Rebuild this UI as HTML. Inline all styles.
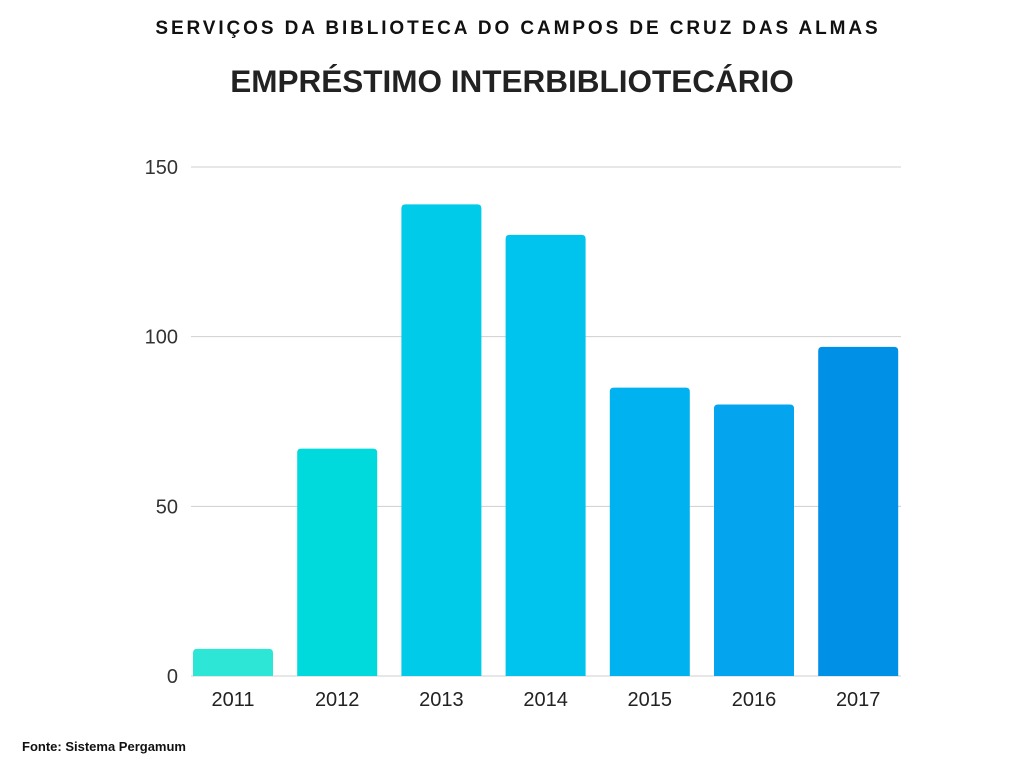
<!DOCTYPE html>
<html><head><meta charset="utf-8">
<style>
body{margin:0;width:1024px;height:768px;background:#fff;font-family:"Liberation Sans",sans-serif;overflow:hidden;position:relative}
#sub{position:absolute;top:18px;left:6px;width:1024px;text-align:center;font-weight:bold;font-size:19px;letter-spacing:2.9px;color:#111}
#title{position:absolute;top:63px;left:0;width:1024px;text-align:center;font-weight:bold;font-size:31.5px;color:#222}
#src{position:absolute;top:739px;left:22px;font-weight:bold;font-size:13px;color:#111}
svg{position:absolute;left:0;top:0}
</style></head><body>
<div id="sub">SERVIÇOS DA BIBLIOTECA DO CAMPOS DE CRUZ DAS ALMAS</div>
<div id="title">EMPRÉSTIMO INTERBIBLIOTECÁRIO</div>
<div id="src">Fonte: Sistema Pergamum</div>
<svg id="chart" width="1024" height="768"></svg>
<script>
const categories=["2011","2012","2013","2014","2015","2016","2017"];
const values=[8,67,139,130,85,80,97];
const yTicks=[0,50,100,150];
const colors=["#2ee6d6","#00dadd","#00cbe8","#00c3ee","#00b3f0","#04a5ee","#0090e6"];
const svg=document.getElementById('chart');
const NS="http://www.w3.org/2000/svg";
const x0=191,x1=901,yBase=676,yTop=167,yMax=150;
const y=v=>yBase-(v/yMax)*(yBase-yTop);
const step=104.2;
const bw=80;
const xc=i=>233+step*i;
function mk(t,a){const e=document.createElementNS(NS,t);for(const k in a)e.setAttribute(k,a[k]);svg.appendChild(e);return e;}
yTicks.forEach(t=>{
 const l=mk('line',{x1:x0,x2:x1,y1:y(t),y2:y(t),stroke:'#cfcfcf','stroke-width':1});
 
 
 const tx=mk('text',{x:178,y:y(t)+7,'text-anchor':'end','font-size':20,fill:'#333','font-family':'Liberation Sans, sans-serif'});
 tx.textContent=t;
 
 
});
categories.forEach((c,i)=>{
 const top=y(values[i]),r=4,L=xc(i)-bw/2;
 const p=mk('path',{d:`M${L},${yBase}V${top+r}Q${L},${top} ${L+r},${top}H${L+bw-r}Q${L+bw},${top} ${L+bw},${top+r}V${yBase}Z`,fill:colors[i]});
 
 
 const tx=mk('text',{x:xc(i),y:706,'text-anchor':'middle','font-size':20,fill:'#222','font-family':'Liberation Sans, sans-serif'});
 tx.textContent=c;
 
 
});
</script>
</body></html>
